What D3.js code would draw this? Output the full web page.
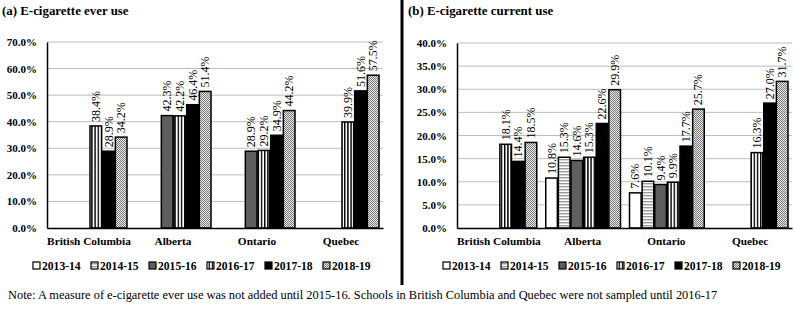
<!DOCTYPE html>
<html>
<head>
<meta charset="utf-8">
<script src="https://cdn.jsdelivr.net/npm/d3@7"></script>
<style>
  body { margin: 0; background: #fff; }
  svg text { font-family: "Liberation Serif", "Times New Roman", serif !important; fill: #000; }
</style>
</head>
<body>
<svg id="chart" width="794" height="310"></svg>
<script>
const provinces = ["British Columbia", "Alberta", "Ontario", "Quebec"];
const years = ["2013-14", "2014-15", "2015-16", "2016-17", "2017-18", "2018-19"];

// null = not measured / not sampled
const everUse = {
  "British Columbia": [null, null, null, 38.4, 28.9, 34.2],
  "Alberta":          [null, null, 42.3, 42.2, 46.4, 51.4],
  "Ontario":          [null, null, 28.9, 29.2, 34.9, 44.2],
  "Quebec":           [null, null, null, 39.9, 51.6, 57.5],
};
const currentUse = {
  "British Columbia": [null, null, null, 18.1, 14.4, 18.5],
  "Alberta":          [10.8, 15.3, 14.6, 15.3, 22.6, 29.9],
  "Ontario":          [7.6, 10.1, 9.4, 9.9, 17.7, 25.7],
  "Quebec":           [null, null, null, 16.3, 27.0, 31.7],
};
const everTicks = [0, 10, 20, 30, 40, 50, 60, 70];
const currentTicks = [0, 5, 10, 15, 20, 25, 30, 35, 40];

const svg = d3.select("#chart");
const defs = svg.append("defs");

// fills for each year
const hp = defs.append("pattern").attr("id", "hstripe").attr("patternUnits", "userSpaceOnUse")
  .attr("width", 4).attr("height", 3);
hp.append("rect").attr("width", 4).attr("height", 3).attr("fill", "#fff");
hp.append("rect").attr("width", 4).attr("height", 1.4).attr("fill", "#9a9a9a");

const vp = defs.append("pattern").attr("id", "vstripe").attr("patternUnits", "userSpaceOnUse")
  .attr("width", 3.2).attr("height", 4);
vp.append("rect").attr("width", 3.2).attr("height", 4).attr("fill", "#fff");
vp.append("rect").attr("x", 1.6).attr("width", 1.4).attr("height", 4).attr("fill", "#000");

const dp = defs.append("pattern").attr("id", "dots").attr("patternUnits", "userSpaceOnUse")
  .attr("width", 2).attr("height", 2);
dp.append("rect").attr("width", 2).attr("height", 2).attr("fill", "#ececec");
dp.append("rect").attr("width", 1).attr("height", 1).attr("fill", "#777");
dp.append("rect").attr("x", 1).attr("y", 1).attr("width", 1).attr("height", 1).attr("fill", "#777");

const fills = ["#fff", "url(#hstripe)", "#5f5f5f", "url(#vstripe)", "#000", "url(#dots)"];

function panel({ title, titleX, data, ticks, max, left, right, top, bottom }) {
  const g = svg.append("g");

  g.append("text")
    .attr("x", titleX).attr("y", 15)
    .style("font-size", "12.9px").style("font-weight", "bold")
    .text(title);

  const y = d3.scaleLinear().domain([0, max]).range([bottom, top]);
  const x0 = d3.scaleBand().domain(provinces).range([left, right]);
  const x1 = d3.scaleBand().domain(years).range([5, x0.bandwidth() - 4]).paddingInner(0.08);

  // gridlines
  g.append("g")
    .selectAll("line")
    .data(ticks.filter((d) => d > 0))
    .join("line")
    .attr("x1", left).attr("x2", right)
    .attr("y1", (d) => y(d)).attr("y2", (d) => y(d))
    .attr("stroke", "#bdbdbd").attr("stroke-width", 1);

  // y axis
  g.append("g")
    .attr("transform", `translate(${left},0)`)
    .call(d3.axisLeft(y).tickValues(ticks).tickFormat((d) => d.toFixed(1) + "%").tickSize(0).tickPadding(10))
    .call((a) => a.select(".domain").attr("stroke", "#000").attr("stroke-width", 1.5))
    .call((a) => a.selectAll("text")
      .style("font-size", "11px").style("font-weight", "bold"));

  // bars
  const rows = [];
  for (const p of provinces) {
    data[p].forEach((v, i) => { if (v != null) rows.push({ p, year: years[i], i, v }); });
  }
  g.append("g")
    .selectAll("rect")
    .data(rows)
    .join("rect")
    .attr("x", (d) => x0(d.p) + x1(d.year))
    .attr("width", x1.bandwidth())
    .attr("y", (d) => y(d.v))
    .attr("height", (d) => y(0) - y(d.v))
    .attr("fill", (d) => fills[d.i])
    .attr("stroke", "#000").attr("stroke-width", 1.5);

  // value labels
  g.append("g")
    .selectAll("text")
    .data(rows)
    .join("text")
    .attr("transform", (d) => `translate(${x0(d.p) + x1(d.year) + x1.bandwidth() / 2 + 4},${y(d.v) - 4}) rotate(-90)`)
    .style("font-size", "12px")
    .text((d) => d.v.toFixed(1) + "%");

  // x axis
  g.append("g")
    .attr("transform", `translate(0,${bottom})`)
    .call(d3.axisBottom(x0).tickSize(0).tickPadding(9))
    .call((a) => a.select(".domain").attr("stroke", "#000").attr("stroke-width", 1.5))
    .call((a) => a.selectAll("text")
      .style("font-size", "11.3px").style("font-weight", "bold"));

  // legend
  const legend = g.append("g").attr("transform", `translate(${left - 14},266)`);
  const item = legend.selectAll("g")
    .data(years)
    .join("g")
    .attr("transform", (d, i) => `translate(${i * 58},0)`);
  item.append("rect")
    .attr("x", 0).attr("y", -4).attr("width", 7).attr("height", 7)
    .attr("fill", (d, i) => fills[i])
    .attr("stroke", "#000").attr("stroke-width", 1.2);
  item.append("text")
    .attr("x", 9).attr("y", 4)
    .style("font-size", "11.6px").style("font-weight", "bold")
    .text((d) => d);
}

panel({ title: "(a) E-cigarette ever use", titleX: 2, data: everUse, ticks: everTicks, max: 70,
  left: 47, right: 383, top: 42, bottom: 228 });
panel({ title: "(b) E-cigarette current use", titleX: 408, data: currentUse, ticks: currentTicks, max: 40,
  left: 457, right: 792, top: 43, bottom: 228 });

// divider between panels
svg.append("line")
  .attr("x1", 402).attr("x2", 402).attr("y1", 0).attr("y2", 285)
  .attr("stroke", "#000").attr("stroke-width", 3);

svg.append("text")
  .attr("x", 8).attr("y", 299)
  .style("font-size", "12.4px")
  .text("Note: A measure of e-cigarette ever use was not added until 2015-16. Schools in British Columbia and Quebec were not sampled until 2016-17");
</script>
</body>
</html>
